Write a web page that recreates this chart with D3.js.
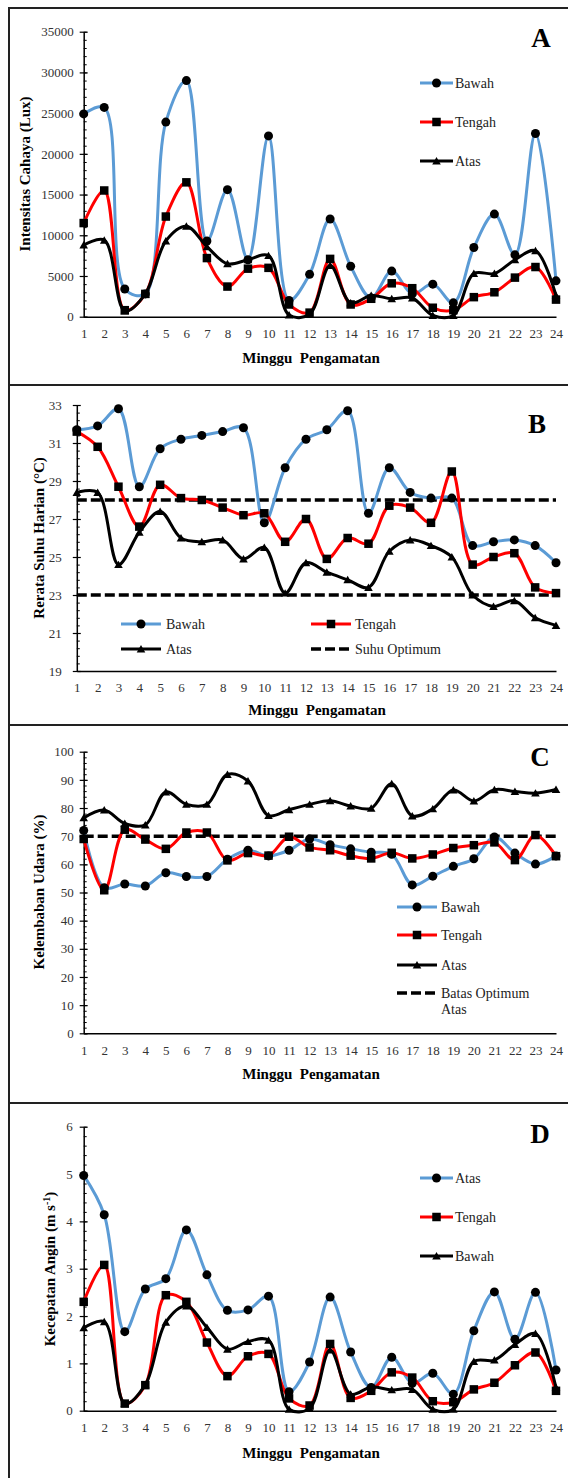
<!DOCTYPE html>
<html>
<head>
<meta charset="utf-8">
<script src="https://cdn.jsdelivr.net/npm/d3@7"></script>
<style>
  body { margin: 0; background: #fff; }
  svg { display: block; }
</style>
</head>
<body>
<div id="chart"></div>
<script>
const WEEKS = [1, 2, 3, 4, 5, 6, 7, 8, 9, 10, 11, 12, 13, 14, 15, 16, 17, 18, 19, 20, 21, 22, 23, 24];

// A - Intensitas cahaya (Lux)
const A_BAWAH = [24900, 25700, 3400, 2800, 23900, 29000, 9300, 15600, 7000, 22200, 2000, 5200, 12000, 6200, 2300, 5600, 2800, 4000, 1700, 8500, 12600, 7600, 22500, 4400];
const A_TENGAH = [11500, 15500, 800, 2800, 12300, 16500, 7200, 3700, 5900, 6000, 1500, 500, 7100, 1500, 2200, 4100, 3500, 1100, 800, 2400, 3000, 4800, 6100, 2100];
const A_ATAS = [8800, 9400, 700, 2800, 9300, 11100, 8600, 6500, 7000, 7500, 200, 300, 6300, 1700, 2600, 2200, 2300, 150, 150, 5300, 5300, 7000, 8100, 2600];
const A_TICKS = [0, 5000, 10000, 15000, 20000, 25000, 30000, 35000];

// B - Rerata suhu harian (C)
const B_BAWAH = [31.7, 31.9, 32.8, 28.7, 30.7, 31.2, 31.4, 31.6, 31.8, 26.8, 29.7, 31.2, 31.7, 32.7, 27.3, 29.7, 28.4, 28.1, 28.1, 25.6, 25.8, 25.9, 25.6, 24.7];
const B_TENGAH = [31.6, 30.8, 28.7, 26.6, 28.8, 28.1, 28.0, 27.6, 27.2, 27.3, 25.8, 27.0, 24.9, 26.0, 25.7, 27.7, 27.6, 26.8, 29.5, 24.6, 25.0, 25.2, 23.4, 23.1];
const B_ATAS = [28.4, 28.4, 24.6, 26.3, 27.4, 26.0, 25.8, 25.9, 24.9, 25.5, 23.1, 24.7, 24.2, 23.8, 23.4, 25.3, 25.9, 25.6, 25.0, 23.0, 22.4, 22.7, 21.8, 21.4];
const B_OPTIMUM = [28, 23];
const B_TICKS = [19, 21, 23, 25, 27, 29, 31, 33];

// C - Kelembaban udara (%)
const C_BAWAH = [72, 51.7, 53, 52.3, 57, 55.7, 55.7, 61.8, 65, 63, 65, 69, 67, 65.5, 64.3, 63.6, 52.7, 55.8, 59.3, 62, 69.7, 64, 60.1, 63];
const C_TENGAH = [69, 50.8, 72.3, 68.8, 65.5, 71.3, 71.3, 61.4, 64, 63.1, 69.8, 66, 65, 63.1, 62.1, 64.1, 62.1, 63.5, 65.8, 66.8, 67.8, 61.5, 70.4, 62.9];
const C_ATAS = [76.5, 79.3, 74.5, 74, 85.7, 81.3, 81.3, 91.9, 89.6, 77.3, 79.4, 81.3, 82.6, 80.7, 79.9, 88.6, 77.2, 79.7, 86.4, 82.5, 86.5, 85.9, 85.3, 86.6];
const C_OPTIMUM = [70];
const C_TICKS = [0, 10, 20, 30, 40, 50, 60, 70, 80, 90, 100];

// D - Kecepatan angin (m/s)
const D_ATAS = [4.97, 4.14, 1.67, 2.57, 2.79, 3.82, 2.87, 2.12, 2.13, 2.42, 0.40, 1.03, 2.40, 1.24, 0.49, 1.13, 0.58, 0.79, 0.35, 1.69, 2.51, 1.51, 2.50, 0.86];
const D_TENGAH = [2.30, 3.08, 0.15, 0.54, 2.44, 2.30, 1.44, 0.73, 1.15, 1.20, 0.26, 0.11, 1.41, 0.27, 0.42, 0.81, 0.70, 0.20, 0.18, 0.45, 0.59, 0.96, 1.23, 0.42];
const D_BAWAH = [1.75, 1.88, 0.15, 0.55, 1.87, 2.21, 1.76, 1.30, 1.46, 1.49, 0.03, 0.05, 1.28, 0.35, 0.50, 0.44, 0.45, 0.03, 0.03, 1.04, 1.07, 1.40, 1.63, 0.49];
const D_TICKS = [0, 1, 2, 3, 4, 5, 6];

const FONT = '"Liberation Serif", "Times New Roman", serif';
const BLUE = '#5b9bd5';
const RED = '#ff0000';
const BLACK = '#000000';

const svg = d3.select('#chart')
  .append('svg')
  .attr('width', 568)
  .attr('height', 1478)
  .style('font-family', FONT);

// outer frame + dividers between panels
const frame = svg.append('g').attr('stroke', '#222').attr('stroke-width', 2);
frame.append('line').attr('x1', 9).attr('x2', 9).attr('y1', 7).attr('y2', 1478);
frame.append('line').attr('x1', 8).attr('x2', 568).attr('y1', 8).attr('y2', 8);
[385, 725, 1103].forEach((yy) => {
  frame.append('line').attr('x1', 8).attr('x2', 568).attr('y1', yy).attr('y2', yy);
});

const drawMarker = (sel, type, cx, cy, size) => {
  if (type === 'circle') {
    sel.append('circle').attr('cx', cx).attr('cy', cy).attr('r', size / 2).attr('fill', '#000');
  } else if (type === 'square') {
    sel.append('rect').attr('x', cx - size / 2).attr('y', cy - size / 2)
      .attr('width', size).attr('height', size).attr('fill', '#000');
  } else if (type === 'triangle') {
    sel.append('path')
      .attr('transform', `translate(${cx},${cy + 1})`)
      .attr('d', d3.symbol(d3.symbolTriangle, size * size * 0.5)())
      .attr('fill', '#000');
  }
};

const drawPanel = (p) => {
  const g = svg.append('g');
  const x = d3.scalePoint().domain(WEEKS).range([p.x0, p.x1]);
  const y = d3.scaleLinear().domain(p.domain).range([p.yBot, p.yTop]);

  // minor ticks (inside)
  const minorVals = d3.range(p.domain[0], p.domain[1] + 1e-6, p.minor);
  g.append('g')
    .attr('transform', `translate(${p.x0},0)`)
    .call(d3.axisLeft(y).tickValues(minorVals).tickSize(-3).tickFormat(''))
    .call((a) => a.select('.domain').remove())
    .call((a) => a.selectAll('line').attr('stroke', '#000').attr('stroke-width', 1));

  // major y axis
  const ya = g.append('g')
    .attr('transform', `translate(${p.x0},0)`)
    .call(d3.axisLeft(y).tickValues(p.ticks).tickFormat(d3.format('d'))
      .tickSizeInner(4).tickSizeOuter(0).tickPadding(p.labelPad));
  ya.attr('font-family', FONT).attr('font-size', 13);
  ya.selectAll('.tick line').attr('x1', 4).attr('stroke', '#000').attr('stroke-width', 1.2);
  ya.select('.domain').attr('stroke', '#000').attr('stroke-width', 1.5);
  ya.selectAll('.tick text').attr('fill', '#333');

  // x axis
  const xa = g.append('g')
    .attr('transform', `translate(0,${p.yBot})`)
    .call(d3.axisBottom(x).tickSize(0).tickPadding(12));
  xa.attr('font-family', FONT).attr('font-size', 13);
  xa.select('.domain').attr('stroke', '#000').attr('stroke-width', 1.5);
  xa.selectAll('.tick text').attr('fill', '#333');

  // optimum dashed lines
  (p.optimum || []).forEach((v) => {
    g.append('line')
      .attr('x1', p.x0).attr('x2', p.x1)
      .attr('y1', y(v)).attr('y2', y(v))
      .attr('stroke', '#000').attr('stroke-width', 3.5)
      .attr('stroke-dasharray', '10,4');
  });

  const line = d3.line()
    .x((d, i) => x(WEEKS[i]))
    .y((d) => y(d))
    .curve(d3.curveCatmullRom.alpha(0.5));

  p.series.forEach((s) => {
    g.append('path')
      .attr('d', line(s.values))
      .attr('fill', 'none')
      .attr('stroke', s.color)
      .attr('stroke-width', 3)
      .attr('stroke-linejoin', 'round');
  });
  p.series.forEach((s) => {
    const mg = g.append('g');
    s.values.forEach((v, i) => drawMarker(mg, s.marker, x(WEEKS[i]), y(v), s.msize));
  });

  // legend
  p.legend.forEach((it) => {
    const lg = g.append('g');
    if (it.dashed) {
      lg.append('line').attr('x1', it.lx0).attr('x2', it.lx1).attr('y1', it.y).attr('y2', it.y)
        .attr('stroke', '#000').attr('stroke-width', 3.5).attr('stroke-dasharray', '10,4');
    } else {
      const s = p.series[it.s];
      lg.append('line').attr('x1', it.lx0).attr('x2', it.lx1).attr('y1', it.y).attr('y2', it.y)
        .attr('stroke', s.color).attr('stroke-width', 3);
      drawMarker(lg, s.marker, (it.lx0 + it.lx1) / 2, it.y, s.msize);
    }
    const t = lg.append('text')
      .attr('x', it.tx).attr('y', it.y).attr('dy', '0.33em')
      .attr('font-size', 14).attr('fill', '#222');
    it.text.forEach((ln, k) => {
      t.append('tspan').attr('x', it.tx).attr('dy', k === 0 ? '0.33em' : '1.15em').text(ln);
    });
  });

  // titles
  g.append('text')
    .attr('x', p.xTitle[0]).attr('y', p.xTitle[1])
    .attr('text-anchor', 'middle')
    .attr('font-size', 15).attr('font-weight', 'bold')
    .attr('xml:space', 'preserve')
    .text('Minggu  Pengamatan');

  const yt = g.append('text')
    .attr('transform', `translate(${p.yTitle[0]},${p.yTitle[1]}) rotate(-90)`)
    .attr('text-anchor', 'middle')
    .attr('dy', '0.35em')
    .attr('font-size', 15).attr('font-weight', 'bold');
  p.yTitleParts.forEach((part) => {
    const ts = yt.append('tspan').text(part.t);
    if (part.sup) ts.attr('baseline-shift', 'super').attr('font-size', 10);
  });

  g.append('text')
    .attr('x', p.letter[0]).attr('y', p.letter[1])
    .attr('text-anchor', 'middle')
    .attr('font-size', 27).attr('font-weight', 'bold')
    .text(p.name);
};

const PANELS = [
  {
    name: 'A', x0: 83.7, x1: 556, yTop: 31.7, yBot: 316.7, domain: [0, 35000],
    ticks: A_TICKS, minor: 1000, labelPad: 6,
    series: [
      { label: 'Bawah', values: A_BAWAH, color: BLUE, marker: 'circle', msize: 9 },
      { label: 'Tengah', values: A_TENGAH, color: RED, marker: 'square', msize: 8.5 },
      { label: 'Atas', values: A_ATAS, color: BLACK, marker: 'triangle', msize: 8 },
    ],
    legend: [
      { s: 0, lx0: 420, lx1: 453, y: 83, tx: 455, text: ['Bawah'] },
      { s: 1, lx0: 420, lx1: 453, y: 122, tx: 455, text: ['Tengah'] },
      { s: 2, lx0: 420, lx1: 453, y: 161, tx: 455, text: ['Atas'] },
    ],
    xTitle: [311, 363], yTitle: [25, 174],
    yTitleParts: [{ t: 'Intensitas Cahaya (Lux)' }],
    letter: [541, 47],
  },
  {
    name: 'B', x0: 76.8, x1: 556, yTop: 405, yBot: 671, domain: [19, 33],
    ticks: B_TICKS, minor: 0.4, labelPad: 11,
    optimum: B_OPTIMUM,
    series: [
      { label: 'Bawah', values: B_BAWAH, color: BLUE, marker: 'circle', msize: 9 },
      { label: 'Tengah', values: B_TENGAH, color: RED, marker: 'square', msize: 8.5 },
      { label: 'Atas', values: B_ATAS, color: BLACK, marker: 'triangle', msize: 8 },
    ],
    legend: [
      { s: 0, lx0: 121, lx1: 161, y: 624, tx: 166, text: ['Bawah'] },
      { s: 1, lx0: 311, lx1: 351, y: 624, tx: 355, text: ['Tengah'] },
      { s: 2, lx0: 121, lx1: 161, y: 649, tx: 166, text: ['Atas'] },
      { dashed: true, lx0: 311, lx1: 351, y: 649, tx: 355, text: ['Suhu Optimum'] },
    ],
    xTitle: [317, 715], yTitle: [38.5, 538],
    yTitleParts: [{ t: 'Rerata Suhu Harian (°C)' }],
    letter: [537, 433],
  },
  {
    name: 'C', x0: 83.7, x1: 556, yTop: 751.7, yBot: 1033.3, domain: [0, 100],
    ticks: C_TICKS, minor: 2, labelPad: 6,
    optimum: C_OPTIMUM,
    series: [
      { label: 'Bawah', values: C_BAWAH, color: BLUE, marker: 'circle', msize: 9 },
      { label: 'Tengah', values: C_TENGAH, color: RED, marker: 'square', msize: 8.5 },
      { label: 'Atas', values: C_ATAS, color: BLACK, marker: 'triangle', msize: 8 },
    ],
    legend: [
      { s: 0, lx0: 397, lx1: 437, y: 907, tx: 441, text: ['Bawah'] },
      { s: 1, lx0: 397, lx1: 437, y: 935, tx: 441, text: ['Tengah'] },
      { s: 2, lx0: 397, lx1: 437, y: 965, tx: 441, text: ['Atas'] },
      { dashed: true, lx0: 397, lx1: 437, y: 993, tx: 441, text: ['Batas Optimum', 'Atas'] },
    ],
    xTitle: [311, 1079], yTitle: [39, 892],
    yTitleParts: [{ t: 'Kelembaban Udara (%)' }],
    letter: [540, 766],
  },
  {
    name: 'D', x0: 83.7, x1: 556, yTop: 1126.7, yBot: 1410.7, domain: [0, 6],
    ticks: D_TICKS, minor: 0.2, labelPad: 7,
    series: [
      { label: 'Atas', values: D_ATAS, color: BLUE, marker: 'circle', msize: 9 },
      { label: 'Tengah', values: D_TENGAH, color: RED, marker: 'square', msize: 8.5 },
      { label: 'Bawah', values: D_BAWAH, color: BLACK, marker: 'triangle', msize: 8 },
    ],
    legend: [
      { s: 0, lx0: 420, lx1: 453, y: 1178, tx: 455, text: ['Atas'] },
      { s: 1, lx0: 420, lx1: 453, y: 1217, tx: 455, text: ['Tengah'] },
      { s: 2, lx0: 420, lx1: 453, y: 1256, tx: 455, text: ['Bawah'] },
    ],
    xTitle: [311, 1458], yTitle: [50, 1269],
    yTitleParts: [{ t: 'Kecepatan Angin (m s' }, { t: '-1', sup: true }, { t: ')' }],
    letter: [540, 1143],
  },
];

PANELS.forEach(drawPanel);
</script>
</body>
</html>
